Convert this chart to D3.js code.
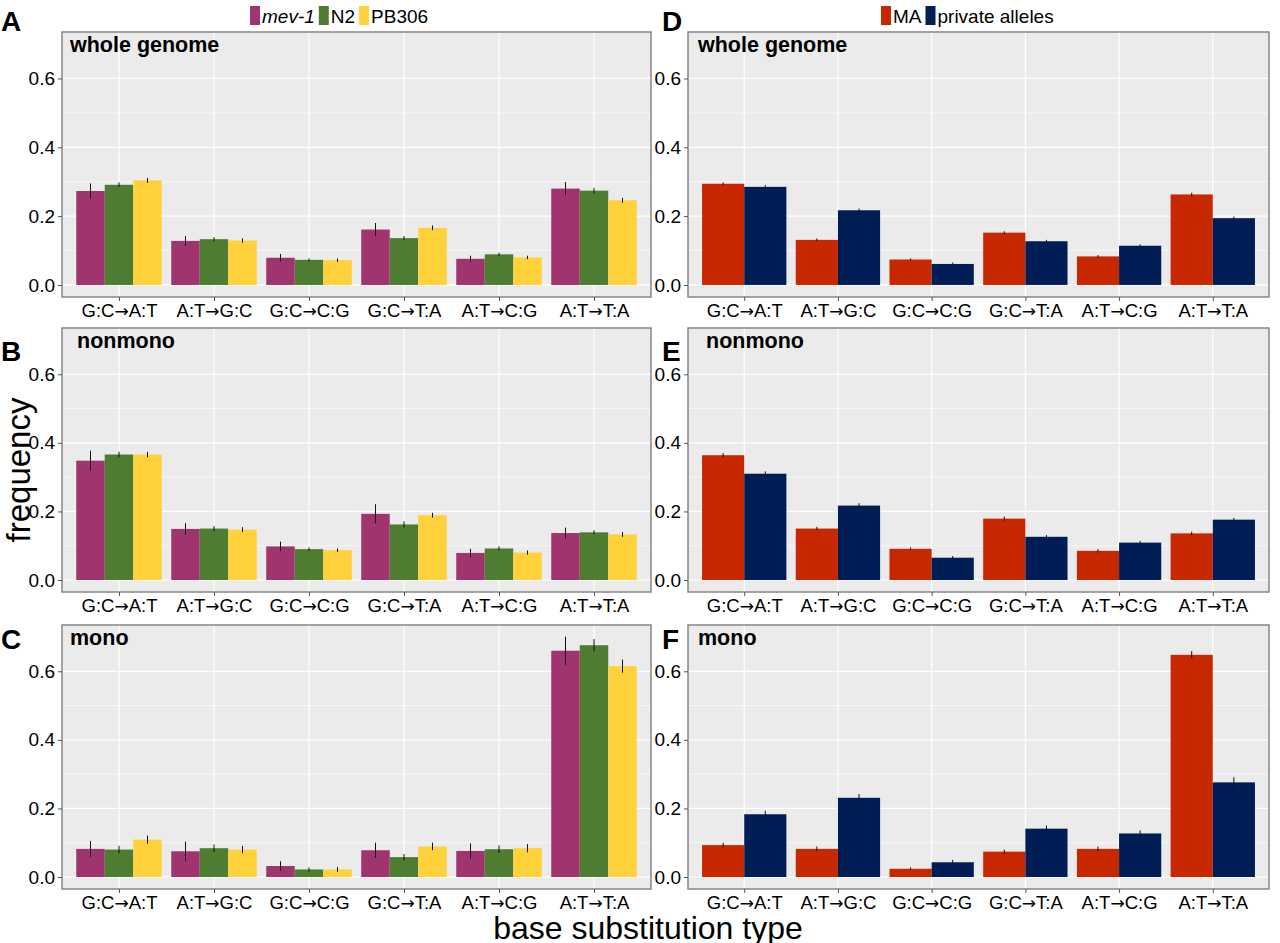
<!DOCTYPE html>
<html><head><meta charset="utf-8">
<script src="https://cdn.jsdelivr.net/npm/d3@7"></script>
<style>body{margin:0;background:#fff}svg{display:block}text{font-family:"Liberation Sans",Arial,sans-serif}</style>
</head><body><svg id="c" width="1280" height="943"></svg>
<script>
// ---------- data ----------
const categories = ["G:C\u2192A:T","A:T\u2192G:C","G:C\u2192C:G","G:C\u2192T:A","A:T\u2192C:G","A:T\u2192T:A"];
const yTicks = [0.0, 0.2, 0.4, 0.6];
const yMinor = [0.1, 0.3, 0.5];
const yTickLabels = ["0.0","0.2","0.4","0.6"];
const leftSeries = ["mev-1","N2","PB306"];
const rightSeries = ["MA","private alleles"];
const panelTitles = ["whole genome","nonmono","mono"];

// Panel A (whole genome)
const mev1Whole    = [0.273,0.128,0.079,0.161,0.076,0.280];
const mev1WholeErr = [0.022,0.014,0.011,0.019,0.009,0.019];
const n2Whole      = [0.291,0.133,0.073,0.136,0.089,0.274];
const n2WholeErr   = [0.007,0.006,0.004,0.006,0.005,0.008];
const pbWhole      = [0.304,0.129,0.072,0.166,0.080,0.246];
const pbWholeErr   = [0.007,0.006,0.005,0.007,0.005,0.007];
// Panel B (nonmono)
const mev1Non      = [0.348,0.149,0.098,0.193,0.079,0.137];
const mev1NonErr   = [0.029,0.017,0.014,0.028,0.012,0.016];
const n2Non        = [0.366,0.150,0.090,0.162,0.092,0.139];
const n2NonErr     = [0.008,0.007,0.005,0.009,0.006,0.006];
const pbNon        = [0.366,0.147,0.087,0.189,0.080,0.133];
const pbNonErr     = [0.008,0.007,0.005,0.007,0.006,0.007];
// Panel C (mono)
const mev1Mono     = [0.082,0.075,0.032,0.078,0.076,0.660];
const mev1MonoErr  = [0.023,0.028,0.014,0.022,0.022,0.041];
const n2Mono       = [0.080,0.084,0.022,0.058,0.081,0.676];
const n2MonoErr    = [0.011,0.011,0.006,0.009,0.011,0.018];
const pbMono       = [0.109,0.080,0.022,0.089,0.084,0.615];
const pbMonoErr    = [0.012,0.011,0.007,0.011,0.012,0.019];
// Panel D (whole genome)
const maWhole      = [0.294,0.131,0.074,0.152,0.083,0.263];
const maWholeErr   = [0.004,0.004,0.003,0.004,0.004,0.005];
const paWhole      = [0.285,0.217,0.061,0.127,0.114,0.194];
const paWholeErr   = [0.005,0.005,0.004,0.004,0.004,0.005];
// Panel E (nonmono)
const maNon        = [0.364,0.150,0.091,0.179,0.085,0.136];
const maNonErr     = [0.006,0.005,0.004,0.006,0.005,0.005];
const paNon        = [0.310,0.217,0.065,0.126,0.109,0.176];
const paNonErr     = [0.007,0.007,0.005,0.005,0.005,0.005];
// Panel F (mono)
const maMono       = [0.093,0.082,0.024,0.074,0.082,0.648];
const maMonoErr    = [0.007,0.007,0.004,0.006,0.007,0.011];
const paMono       = [0.183,0.231,0.043,0.141,0.127,0.276];
const paMonoErr    = [0.010,0.011,0.007,0.009,0.009,0.015];

const leftColors  = ["#A0346E","#4E7D32","#FFD23C"];
const rightColors = ["#C82800","#001E55"];

// ---------- layout ----------
const svg = d3.select("#c");
const colX = [[62,651],[688,1269]];
const rowY = [[32,297],[328,592],[625,889]];
const letters = [["A","B","C"],["D","E","F"]];
const letterY = [31,361,649];
const titleX = [[8,15,8],[10,18,10]];

const panels = [
  {col:0,row:0,series:leftSeries,colors:leftColors,vals:[mev1Whole,n2Whole,pbWhole],errs:[mev1WholeErr,n2WholeErr,pbWholeErr]},
  {col:0,row:1,series:leftSeries,colors:leftColors,vals:[mev1Non,n2Non,pbNon],errs:[mev1NonErr,n2NonErr,pbNonErr]},
  {col:0,row:2,series:leftSeries,colors:leftColors,vals:[mev1Mono,n2Mono,pbMono],errs:[mev1MonoErr,n2MonoErr,pbMonoErr]},
  {col:1,row:0,series:rightSeries,colors:rightColors,vals:[maWhole,paWhole],errs:[maWholeErr,paWholeErr]},
  {col:1,row:1,series:rightSeries,colors:rightColors,vals:[maNon,paNon],errs:[maNonErr,paNonErr]},
  {col:1,row:2,series:rightSeries,colors:rightColors,vals:[maMono,paMono],errs:[maMonoErr,paMonoErr]}
];

panels.forEach(p => {
  const [x0,x1] = colX[p.col];
  const [y0,y1] = rowY[p.row];
  const x = d3.scalePoint().domain(categories).range([x0,x1]).padding(0.6);
  const step = x.step();
  const inner = d3.scaleBand().domain(p.series).range([-0.45*step, 0.45*step]);
  const y = d3.scaleLinear().domain([-0.035, 0.735]).range([y1,y0]);
  const g = svg.append("g");
  g.append("rect").attr("x",x0).attr("y",y0).attr("width",x1-x0).attr("height",y1-y0).attr("fill","#EBEBEB");
  // grid
  g.selectAll(".mn").data(yMinor).join("line").attr("x1",x0).attr("x2",x1)
    .attr("y1",d=>y(d)).attr("y2",d=>y(d)).attr("stroke","#fff").attr("stroke-width",0.6);
  g.selectAll(".mj").data(yTicks).join("line").attr("x1",x0).attr("x2",x1)
    .attr("y1",d=>y(d)).attr("y2",d=>y(d)).attr("stroke","#fff").attr("stroke-width",1.2);
  g.selectAll(".vx").data(categories).join("line").attr("x1",d=>x(d)).attr("x2",d=>x(d))
    .attr("y1",y0).attr("y2",y1).attr("stroke","#fff").attr("stroke-width",1.2);
  // bars
  p.series.forEach((s,si) => {
    g.selectAll(null).data(categories).join("rect")
      .attr("x",d=>x(d)+inner(s)).attr("width",inner.bandwidth())
      .attr("y",(d,i)=>y(p.vals[si][i])).attr("height",(d,i)=>y(0)-y(p.vals[si][i]))
      .attr("fill",p.colors[si]);
  });
  p.series.forEach((s,si) => {
    g.selectAll(null).data(categories).join("line")
      .attr("x1",d=>x(d)+inner(s)+inner.bandwidth()/2).attr("x2",d=>x(d)+inner(s)+inner.bandwidth()/2)
      .attr("y1",(d,i)=>y(p.vals[si][i]-p.errs[si][i])).attr("y2",(d,i)=>y(p.vals[si][i]+p.errs[si][i]))
      .attr("stroke","#111").attr("stroke-width",1);
  });
  // border
  g.append("rect").attr("x",x0).attr("y",y0).attr("width",x1-x0).attr("height",y1-y0)
    .attr("fill","none").attr("stroke","#7F7F7F").attr("stroke-width",1.4);
  // axes
  const ya = d3.axisLeft(y).tickValues(yTicks).tickFormat((d,i)=>yTickLabels[i]).tickSize(4).tickPadding(3);
  const yg = g.append("g").attr("transform",`translate(${x0},0)`).call(ya);
  yg.select(".domain").remove();
  yg.selectAll("line").attr("stroke","#555");
  yg.selectAll("text").attr("font-size",19).attr("fill","#000").attr("font-family","Liberation Sans, Arial, sans-serif");
  const xa = d3.axisBottom(x).tickSize(4).tickPadding(3);
  const xg = g.append("g").attr("transform",`translate(0,${y1})`).call(xa);
  xg.select(".domain").remove();
  xg.selectAll("line").attr("stroke","#555");
  xg.selectAll(".tick text").attr("font-size",18.5).attr("fill","#000")
    .attr("font-family","Liberation Sans, Arial, sans-serif")
    .each(function(d){
      const parts = d.split("\u2192");
      const t = d3.select(this);
      t.text(null);
      t.append("tspan").text(parts[0]);
      t.append("tspan").attr("font-family","DejaVu Sans").attr("font-size",17).text("\u2192");
      t.append("tspan").text(parts[1]);
    });
  // panel title
  g.append("text").attr("x",x0+titleX[p.col][p.row]).attr("y",y0+20)
    .attr("font-size",21.5).attr("font-weight","bold").text(panelTitles[p.row]);
  // letter
  svg.append("text").attr("x",p.col===0?1:662).attr("y",letterY[p.row])
    .attr("font-size",28).attr("font-weight","bold").text(letters[p.col][p.row]);
});

// legends
function legend(series, colors, startX, italicFirst){
  let cx = startX;
  const lg = svg.append("g");
  series.forEach((s,i)=>{
    lg.append("rect").attr("x",cx).attr("y",6).attr("width",10).attr("height",19).attr("fill",colors[i]);
    cx += 12;
    const t = lg.append("text").attr("x",cx).attr("y",23).attr("font-size",19).text(s);
    if (italicFirst && i===0) t.attr("font-style","italic");
    cx += t.node().getComputedTextLength() + 4;
  });
}
legend(leftSeries, leftColors, 250, true);
legend(rightSeries, rightColors, 881, false);

// axis titles
svg.append("text").attr("transform","translate(30,470) rotate(-90)").attr("text-anchor","middle")
  .attr("font-size",33).text("frequency");
svg.append("text").attr("x",648).attr("y",939).attr("text-anchor","middle")
  .attr("font-size",32).text("base substitution type");
</script></body></html>
